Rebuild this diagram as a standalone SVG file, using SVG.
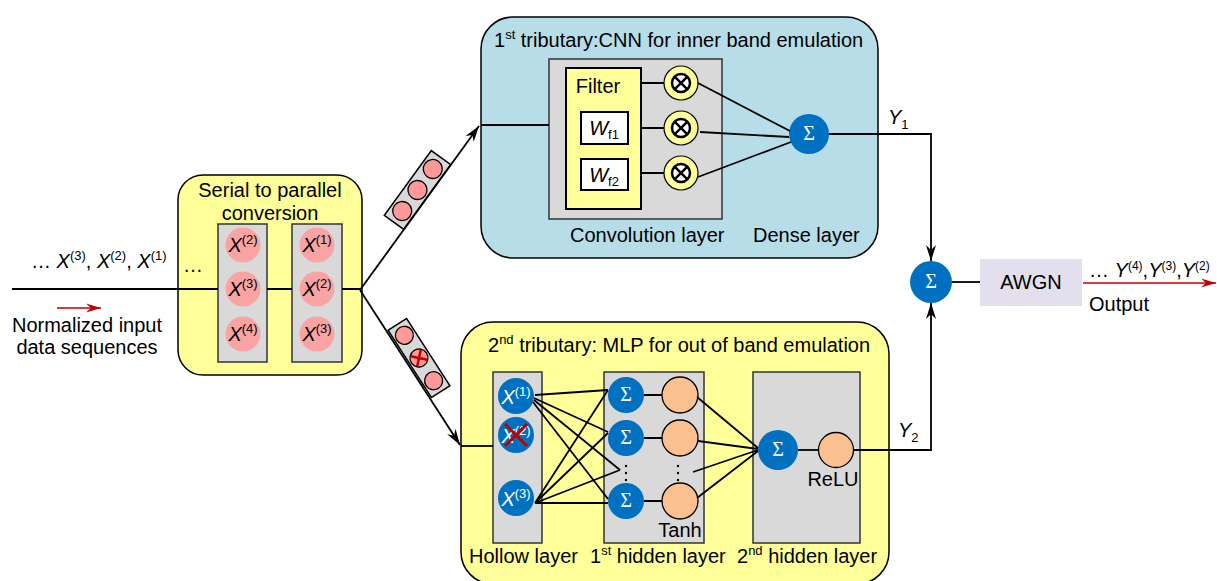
<svg xmlns="http://www.w3.org/2000/svg" width="1217" height="581" viewBox="0 0 1217 581">
<defs>
<style>
.t{font-family:"Liberation Sans",Arial,sans-serif;font-size:20px;fill:#000}
.s{font-family:"Liberation Serif","Times New Roman",serif;font-size:20px;fill:#fff}
.ln{stroke:#000;stroke-width:1.8;fill:none}
.gray{fill:#d9d9d9;stroke:#333;stroke-width:1.5}
.blue{fill:#0070c0}
.org{fill:#fac090;stroke:#000;stroke-width:1.3}
.pink{fill:#f9a3a3}
.pinks{fill:#ff9999;stroke:#000;stroke-width:1.3}
.ot{fill:#ffff99;stroke:#000;stroke-width:1.2}
.red{stroke:#c00000;stroke-width:3;fill:none}
</style>
<marker id="ah" viewBox="-17 -6 18 12" refX="0" refY="0" markerWidth="18" markerHeight="12" markerUnits="userSpaceOnUse" orient="auto"><path d="M0,0 L-16,-5 L-11,0 L-16,5 Z" fill="#000"/></marker>
<marker id="ahr" viewBox="-17 -6 18 12" refX="0" refY="0" markerWidth="18" markerHeight="12" markerUnits="userSpaceOnUse" orient="auto"><path d="M0,0 L-15,-4.5 L-10,0 L-15,4.5 Z" fill="#c00000"/></marker>
<g id="otimes"><circle r="17" class="ot"/><circle r="9" fill="#fff" stroke="#000" stroke-width="2.5"/><path d="M-6.4,-6.4 L6.4,6.4 M-6.4,6.4 L6.4,-6.4" stroke="#000" stroke-width="2.5"/></g>
</defs>

<!-- containers -->
<g id="serial">
<rect x="178" y="175" width="184" height="200" rx="25" fill="#ffff99" stroke="#000" stroke-width="1.5"/>
<text class="t" x="270" y="197" text-anchor="middle">Serial to parallel</text>
<text class="t" x="270" y="220" text-anchor="middle">conversion</text>
<text class="t" x="193" y="272" text-anchor="middle">…</text>
<rect x="218" y="224" width="49" height="138" class="gray"/>
<rect x="292" y="224" width="50" height="138" class="gray"/>
<circle cx="243" cy="245" r="17.5" class="pink"/>
<circle cx="243" cy="289" r="17.5" class="pink"/>
<circle cx="243" cy="334" r="17.5" class="pink"/>
<circle cx="317" cy="245" r="17.5" class="pink"/>
<circle cx="317" cy="289" r="17.5" class="pink"/>
<circle cx="317" cy="334" r="17.5" class="pink"/>
<text class="t" x="243" y="252" text-anchor="middle"><tspan font-style="italic">X</tspan><tspan font-size="13" dy="-8">(2)</tspan></text>
<text class="t" x="243" y="296" text-anchor="middle"><tspan font-style="italic">X</tspan><tspan font-size="13" dy="-8">(3)</tspan></text>
<text class="t" x="243" y="341" text-anchor="middle"><tspan font-style="italic">X</tspan><tspan font-size="13" dy="-8">(4)</tspan></text>
<text class="t" x="317" y="252" text-anchor="middle"><tspan font-style="italic">X</tspan><tspan font-size="13" dy="-8">(1)</tspan></text>
<text class="t" x="317" y="296" text-anchor="middle"><tspan font-style="italic">X</tspan><tspan font-size="13" dy="-8">(2)</tspan></text>
<text class="t" x="317" y="341" text-anchor="middle"><tspan font-style="italic">X</tspan><tspan font-size="13" dy="-8">(3)</tspan></text>
</g>

<g id="trib1">
<rect x="481" y="17" width="397" height="241" rx="32" fill="#b7dde8" stroke="#000" stroke-width="1.5"/>
<text class="t" x="494" y="47">1<tspan font-size="13" dy="-8">st</tspan><tspan dy="8"> tributary:CNN for inner band emulation</tspan></text>
</g>
<g id="conv">
<rect x="549" y="59" width="173" height="160" class="gray"/>
<rect x="566" y="68" width="75" height="141" fill="#ffff99" stroke="#000" stroke-width="2"/>
<text class="t" x="598" y="93" text-anchor="middle">Filter</text>
<rect x="581" y="112" width="47" height="32" fill="#fff" stroke="#000" stroke-width="2"/>
<rect x="581" y="159" width="47" height="31" fill="#fff" stroke="#000" stroke-width="2"/>
<text class="t" x="604" y="135" text-anchor="middle"><tspan font-style="italic">W</tspan><tspan font-size="13" dy="4">f1</tspan></text>
<text class="t" x="604" y="182" text-anchor="middle"><tspan font-style="italic">W</tspan><tspan font-size="13" dy="4">f2</tspan></text>
<use href="#otimes" x="681" y="83"/>
<use href="#otimes" x="681" y="128"/>
<use href="#otimes" x="681" y="173"/>
<text class="t" x="570" y="242">Convolution layer</text>
</g>
<g id="dense">
<circle cx="809" cy="134" r="20" class="blue"/>
<text class="s" x="809" y="140" text-anchor="middle" font-size="18">Σ</text>
<text class="t" x="753" y="242">Dense layer</text>
</g>

<g id="trib2">
<rect x="461" y="322" width="428" height="262" rx="32" fill="#ffff99" stroke="#000" stroke-width="1.5"/>
<text class="t" x="488" y="352">2<tspan font-size="13" dy="-8">nd</tspan><tspan dy="8"> tributary: MLP for out of band emulation</tspan></text>
</g>
<g id="hollow">
<rect x="493" y="372" width="49" height="171" class="gray"/>
<circle cx="516" cy="396" r="18" class="blue"/>
<circle cx="516" cy="435" r="18" class="blue"/>
<circle cx="516" cy="498" r="18" class="blue"/>
<text class="t" x="516" y="404" text-anchor="middle" fill="#fff" style="fill:#fff"><tspan font-style="italic">X</tspan><tspan font-size="13" dy="-8">(1)</tspan></text>
<text class="t" x="516" y="443" text-anchor="middle" style="fill:#fff"><tspan font-style="italic">X</tspan><tspan font-size="13" dy="-8">(2)</tspan></text>
<text class="t" x="516" y="506" text-anchor="middle" style="fill:#fff"><tspan font-style="italic">X</tspan><tspan font-size="13" dy="-8">(3)</tspan></text>
<path d="M505,424 L527,446 M505,446 L527,424" class="red"/>
<text class="t" x="469" y="563">Hollow layer</text>
</g>
<g id="hidden1">
<rect x="604" y="372" width="100" height="171" class="gray"/>
<path d="M644,395 H662 M644,438 H662 M644,501 H662" class="ln"/>
<circle cx="626" cy="395" r="18" class="blue"/>
<circle cx="626" cy="438" r="18" class="blue"/>
<circle cx="626" cy="501" r="18" class="blue"/>
<text class="s" x="626" y="401" text-anchor="middle" font-size="18">Σ</text>
<text class="s" x="626" y="444" text-anchor="middle" font-size="18">Σ</text>
<text class="s" x="626" y="507" text-anchor="middle" font-size="18">Σ</text>
<circle cx="680" cy="395" r="18" class="org"/>
<circle cx="680" cy="438" r="18" class="org"/>
<circle cx="680" cy="501" r="18" class="org"/>
<g fill="#000"><circle cx="626" cy="466" r="1.2"/><circle cx="626" cy="473" r="1.2"/><circle cx="626" cy="480" r="1.2"/><circle cx="678" cy="466" r="1.2"/><circle cx="678" cy="473" r="1.2"/><circle cx="678" cy="480" r="1.2"/></g>
<text class="t" x="680" y="537" text-anchor="middle">Tanh</text>
<text class="t" x="590" y="563">1<tspan font-size="13" dy="-8">st</tspan><tspan dy="8"> hidden layer</tspan></text>
</g>
<g id="hidden2">
<rect x="753" y="372" width="107" height="171" class="gray"/>
<path d="M798,450 H819" class="ln"/>
<circle cx="778" cy="450" r="20" class="blue"/>
<text class="s" x="778" y="456" text-anchor="middle" font-size="18">Σ</text>
<circle cx="836" cy="450" r="17.5" class="org"/>
<text class="t" x="833" y="486" text-anchor="middle">ReLU</text>
<text class="t" x="737" y="563">2<tspan font-size="13" dy="-8">nd</tspan><tspan dy="8"> hidden layer</tspan></text>
</g>

<g id="sum">
<circle cx="931" cy="282" r="21" class="blue"/>
<text class="s" x="931" y="288" text-anchor="middle" font-size="18">Σ</text>
</g>
<g id="awgn">
<rect x="980" y="259" width="102" height="47" fill="#e4dfec"/>
<text class="t" x="1031" y="289" text-anchor="middle">AWGN</text>
</g>

<g id="packets">
<g transform="translate(417.5,190) rotate(-54)">
<rect x="-40" y="-12" width="80" height="24" fill="#d9d9d9" stroke="#000" stroke-width="1.5"/>
<circle cx="-26" cy="0" r="9.5" class="pinks"/><circle cx="0" cy="0" r="9.5" class="pinks"/><circle cx="26" cy="0" r="9.5" class="pinks"/>
</g>
<g transform="translate(419,358) rotate(57.2)">
<rect x="-40" y="-11" width="80" height="22" fill="#d9d9d9" stroke="#000" stroke-width="1.5"/>
<circle cx="-27" cy="0" r="9" class="pinks"/><circle cx="0" cy="0" r="9" class="pinks"/><circle cx="27" cy="0" r="9" class="pinks"/>
<path d="M-6,-6 L6,6 M-6,6 L6,-6" stroke="#c00000" stroke-width="2.5"/>
</g>
</g>

<g id="connectors">
<path d="M12,289 H218 M267,289 H292 M342,289 H360" class="ln"/>
<path d="M360,290 L479,126" class="ln" stroke-width="1.5" marker-end="url(#ah)"/>
<path d="M360,290 L460,445" class="ln" stroke-width="1.5" marker-end="url(#ah)"/>
<path d="M481,125 H549" class="ln" stroke-width="1.5"/>
<path d="M641,83 H664 M641,128 H664 M641,173 H664" class="ln"/>
<path d="M698,83 L790,131 M700,132 L789,137 M698,177 L791,142" class="ln"/>
<path d="M829,134 H931 V261" class="ln" stroke-width="1.5" marker-end="url(#ah)"/>
<path d="M854,450 H931 V303" class="ln" stroke-width="1.5" marker-end="url(#ah)"/>
<path d="M952,282 H980" class="ln"/>
<path d="M1083,283 H1216" stroke="#c00000" stroke-width="1.5" marker-end="url(#ahr)"/>
<path d="M57,308 H101" stroke="#c00000" stroke-width="1.5" marker-end="url(#ahr)"/>
<path d="M461,446 H493" class="ln"/>
<path d="M535,395 L608,390 M534,398 L608,432 M534,400 L620,470 M533,402 L608,499 M535,503 L608,390 M535,503 L608,433 M535,503 L620,470 M535,503 L608,503" class="ln"/>
<path d="M697,397 L758,448 M698,441 L758,449 M693,472 L758,450 M697,498 L758,451" class="ln"/>
</g>

<g id="labels">
<text class="t" x="31" y="268">… <tspan font-style="italic">X</tspan><tspan font-size="13" dy="-8">(3)</tspan><tspan dy="8">, </tspan><tspan font-style="italic">X</tspan><tspan font-size="13" dy="-8">(2)</tspan><tspan dy="8">, </tspan><tspan font-style="italic">X</tspan><tspan font-size="13" dy="-8">(1)</tspan></text>
<text class="t" x="87" y="332" text-anchor="middle">Normalized input</text>
<text class="t" x="87" y="354" text-anchor="middle">data sequences</text>
<text class="t" x="888" y="124"><tspan font-style="italic">Y</tspan><tspan font-size="13" dy="5">1</tspan></text>
<text class="t" x="898" y="437"><tspan font-style="italic">Y</tspan><tspan font-size="13" dy="5">2</tspan></text>
<text class="t" x="1089" y="277" font-size="18">… <tspan font-style="italic">Y</tspan><tspan font-size="12" dy="-7">(4)</tspan><tspan dy="7">,</tspan><tspan font-style="italic">Y</tspan><tspan font-size="12" dy="-7">(3)</tspan><tspan dy="7">,</tspan><tspan font-style="italic">Y</tspan><tspan font-size="12" dy="-7">(2)</tspan></text>
<text class="t" x="1089" y="311" font-size="19">Output</text>
</g>
</svg>
